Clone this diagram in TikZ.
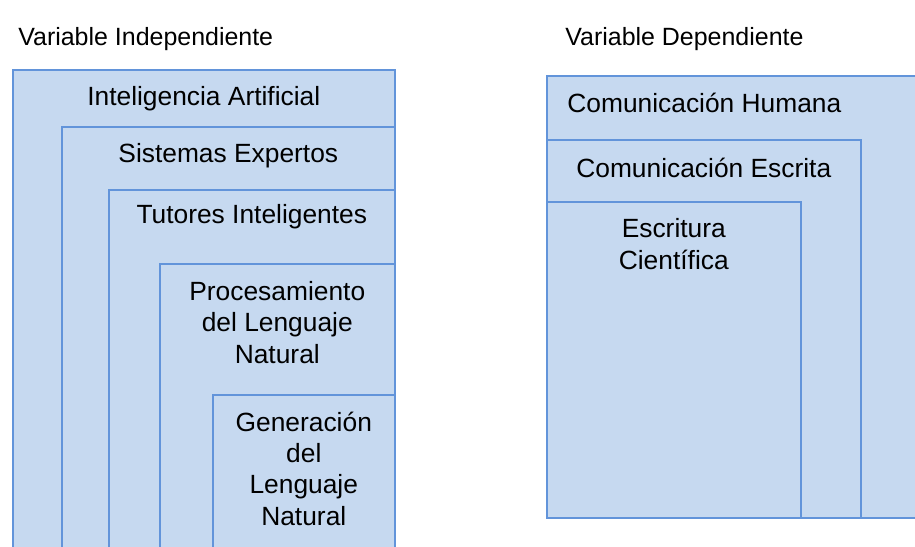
\documentclass[tikz,border=0pt]{standalone}
\definecolor{boxfill}{RGB}{198,217,240}
\definecolor{boxline}{RGB}{98,148,218}
\usepackage{fontspec}
\setmainfont{Liberation Sans}
\usepackage{tikz}
\usetikzlibrary{positioning}

\begin{document}
\begin{tikzpicture}[
        layer/.style={
            draw=boxline,
            fill=boxfill,
            line width=0.9pt,
            anchor=north west,
            inner sep=0pt
          },
        caption/.style={
            font=\fontsize{15}{17.8}\selectfont,
            inner sep=0pt,
            align=center
          },
        title/.style={
            font=\fontsize{14.2}{17.6}\selectfont,
            inner sep=0pt,
            anchor=base west
          }
      ]
      \clip (0,0) rectangle (18.30,-10.94);

      \node[title] (vi) at (0.36,-0.90) {Variable Independiente};
      \node[title] (vd) at (11.30,-0.90) {Variable Dependiente};

      % independent variable, nested to the right
      \node[layer, minimum width=7.64cm, minimum height=9.90cm] (ia) at (0.24,-1.38) {};
      \node[layer, minimum width=6.66cm, minimum height=8.76cm] (se) at (1.22,-2.52) {};
      \node[layer, minimum width=5.72cm, minimum height=7.50cm] (ti) at (2.16,-3.78) {};
      \node[layer, minimum width=4.70cm, minimum height=6.02cm] (pln) at (3.18,-5.26) {};
      \node[layer, minimum width=3.64cm, minimum height=3.40cm] (gln) at (4.24,-7.88) {};

      \node[caption, below=0.34cm of ia.north] (ia_txt) {Inteligencia Artificial};
      \node[caption, below=0.34cm of se.north] (se_txt) {Sistemas Expertos};
      \node[caption, below=0.31cm of ti.north] (ti_txt) {Tutores Inteligentes};
      \node[caption, below=0.36cm of pln.north] (pln_txt) {Procesamiento\\del Lenguaje\\Natural};
      \node[caption, below=0.35cm of gln.north] (gln_txt) {Generación\\del\\Lenguaje\\Natural};

      % dependent variable, nested to the left
      \node[layer, minimum width=7.68cm, minimum height=8.84cm] (ch) at (10.92,-1.50) {};
      \node[layer, minimum width=6.28cm, minimum height=7.56cm] (ce) at (10.92,-2.78) {};
      \node[layer, minimum width=5.08cm, minimum height=6.32cm] (ec) at (10.92,-4.02) {};

      \node[caption, anchor=north west] (ch_txt) at ([xshift=0.42cm, yshift=-0.35cm]ch.north west) {Comunicación Humana};
      \node[caption, below=0.37cm of ce.north] (ce_txt) {Comunicación Escrita};
      \node[caption, below=0.35cm of ec.north] (ec_txt) {Escritura\\Científica};
    \end{tikzpicture}
\end{document}
